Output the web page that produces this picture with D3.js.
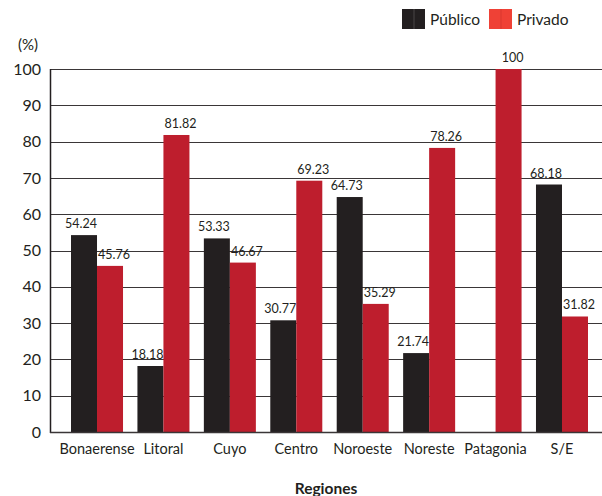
<!DOCTYPE html>
<html>
<head>
<meta charset="utf-8">
<script src="https://cdn.jsdelivr.net/npm/d3@7"></script>
<style>
  html, body { margin: 0; padding: 0; background: #fff; }
  svg { display: block; font-family: Lato, "Noto Sans", sans-serif; }
</style>
</head>
<body>
<svg id="chart" width="602" height="496"></svg>
<script>
// Regions and shares (%) by sector
const regiones = ["Bonaerense", "Litoral", "Cuyo", "Centro", "Noroeste", "Noreste", "Patagonia", "S/E"];
const publico  = [54.24, 18.18, 53.33, 30.77, 64.73, 21.74, 0, 68.18];
const privado  = [45.76, 81.82, 46.67, 69.23, 35.29, 78.26, 100, 31.82];
const yTicks   = [0, 10, 20, 30, 40, 50, 60, 70, 80, 90, 100];
const series   = ["Público", "Privado"];

const barColor    = { "Público": "#231f20", "Privado": "#be1e2d" };
const legendColor = { "Público": "#231f20", "Privado": "#ef4136" };
const legendSplit = { "Público": "#4a4647", "Privado": "#d9392f" };
const textColor = "#231f20";

const svg = d3.select("#chart");
const plotLeft = 50, plotRight = 602, plotTop = 69, plotBottom = 432;

const x0 = d3.scaleBand()
  .domain(regiones)
  .range([63.8, 595.2])
  .paddingInner(0.217)
  .paddingOuter(0.1085);

const x1 = d3.scaleBand()
  .domain(series)
  .range([0, x0.bandwidth()]);

const y = d3.scaleLinear().domain([0, 100]).range([plotBottom, plotTop]);

// Horizontal grid lines
svg.append("g")
  .selectAll("line")
  .data(yTicks.filter(t => t > 0))
  .join("line")
  .attr("x1", plotLeft).attr("x2", plotRight)
  .attr("y1", d => Math.round(y(d)) + 0.5)
  .attr("y2", d => Math.round(y(d)) + 0.5)
  .attr("stroke", "#3a3637")
  .attr("stroke-width", 1.2);

// Bars
const rows = regiones.map((r, i) => ({ region: r, values: [
  { s: "Público", v: publico[i] },
  { s: "Privado", v: privado[i] }
]}));

const groups = svg.append("g")
  .selectAll("g")
  .data(rows)
  .join("g")
  .attr("transform", d => `translate(${x0(d.region)},0)`);

groups.selectAll("rect")
  .data(d => d.values.filter(e => e.v > 0))
  .join("rect")
  .attr("x", d => x1(d.s))
  .attr("width", x1.bandwidth())
  .attr("y", d => y(d.v))
  .attr("height", d => y(0) - y(d.v))
  .attr("fill", d => barColor[d.s]);

// Value labels
groups.selectAll("text")
  .data(d => d.values.filter(e => e.v > 0))
  .join("text")
  .attr("x", d => x1(d.s) + x1.bandwidth() / 2 + (d.s === "Público" ? -3 : 4))
  .attr("y", d => y(d.v) - 7)
  .attr("text-anchor", "middle")
  .attr("font-size", 12.5)
  .attr("fill", textColor)
  .text(d => d.v);

// Axes
const yAxis = d3.axisLeft(y).tickValues(yTicks).tickSize(0).tickPadding(9);
const ga = svg.append("g").attr("transform", `translate(${plotLeft},0)`).call(yAxis);
ga.select(".domain").remove();
ga.selectAll("text").attr("font-size", 16).attr("fill", textColor).attr("font-family", "Lato, 'Noto Sans', sans-serif");

svg.append("line")
  .attr("x1", plotLeft + 0.5).attr("x2", plotLeft + 0.5)
  .attr("y1", plotTop).attr("y2", plotBottom + 1)
  .attr("stroke", textColor).attr("stroke-width", 1.5);
svg.append("line")
  .attr("x1", plotLeft).attr("x2", plotRight)
  .attr("y1", plotBottom + 0.5).attr("y2", plotBottom + 0.5)
  .attr("stroke", "#3a3637").attr("stroke-width", 1.5);

const xAxis = d3.axisBottom(x0).tickSize(0).tickPadding(12);
const gx = svg.append("g").attr("transform", `translate(0,${plotBottom})`).call(xAxis);
gx.select(".domain").remove();
gx.selectAll("text").attr("font-size", 14.5).attr("fill", textColor).attr("font-family", "Lato, 'Noto Sans', sans-serif");

// Axis titles
svg.append("text")
  .attr("x", 28).attr("y", 50)
  .attr("text-anchor", "middle")
  .attr("font-size", 15).attr("fill", textColor)
  .text("(%)");

svg.append("text")
  .attr("x", (plotLeft + plotRight) / 2).attr("y", 494)
  .attr("text-anchor", "middle")
  .attr("font-size", 15.5).attr("font-weight", "bold").attr("fill", textColor)
  .text("Regiones");

// Legend
const legend = svg.append("g").attr("transform", "translate(402,9)");
const lg = legend.selectAll("g")
  .data(series)
  .join("g")
  .attr("transform", (d, i) => `translate(${i * 87},0)`);
lg.append("rect")
  .attr("width", 23).attr("height", 20)
  .attr("fill", d => legendColor[d]);
lg.append("line")
  .attr("x1", 12).attr("x2", 12).attr("y1", 0).attr("y2", 20)
  .attr("stroke", d => legendSplit[d]).attr("stroke-width", 1);
lg.append("text")
  .attr("x", 28).attr("y", 16)
  .attr("font-size", 15.5).attr("fill", textColor)
  .text(d => d);
</script>
</body>
</html>
